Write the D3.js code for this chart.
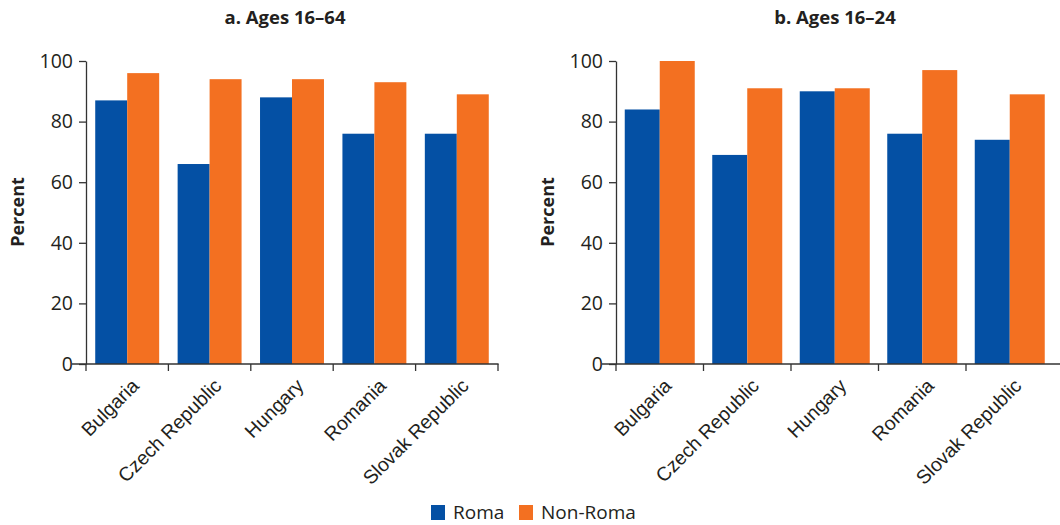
<!DOCTYPE html>
<html>
<head>
<meta charset="utf-8">
<script src="https://cdn.jsdelivr.net/npm/d3@7"></script>
<style>
  html, body { margin: 0; padding: 0; background: #fff; }
  svg { display: block; font-family: "Open Sans", sans-serif; }
</style>
</head>
<body>
<svg id="chart" width="1060" height="525"></svg>
<script>
const countries = ["Bulgaria", "Czech Republic", "Hungary", "Romania", "Slovak Republic"];
const seriesNames = ["Roma", "Non-Roma"];
const seriesColors = ["#0450a4", "#f37021"];
const yTicks = [0, 20, 40, 60, 80, 100];

const panelATitle = "a. Ages 16–64";
const panelARoma = [87, 66, 88, 76, 76];
const panelANonRoma = [96, 94, 94, 93, 89];

const panelBTitle = "b. Ages 16–24";
const panelBRoma = [84, 69, 90, 76, 74];
const panelBNonRoma = [100, 91, 91, 97, 89];

const svg = d3.select("#chart");
const textColor = "#231f20";
const axisColor = "#333";

const y = d3.scaleLinear().domain([0, 100]).range([364, 61]);

function drawPanel(opts) {
  const g = svg.append("g");
  const x = d3.scaleBand().domain(countries).range([opts.x0, opts.x1]).paddingInner(0).paddingOuter(0);
  const bw = x.bandwidth();
  const inner = d3.scaleBand().domain(seriesNames).range([bw * opts.pad, bw * (1 - opts.pad)]);

  const data = countries.map((c, i) => ({ country: c, values: [opts.roma[i], opts.nonRoma[i]] }));

  const groups = g.selectAll("g.grp").data(data).join("g")
    .attr("transform", d => `translate(${x(d.country)},0)`);
  groups.selectAll("rect").data(d => d.values.map((v, k) => ({ v, k }))).join("rect")
    .attr("x", d => inner(seriesNames[d.k]))
    .attr("width", inner.bandwidth())
    .attr("y", d => y(d.v))
    .attr("height", d => y(0) - y(d.v))
    .attr("fill", d => seriesColors[d.k]);

  // y axis
  const ya = g.append("g").attr("transform", `translate(${opts.x0},0)`)
    .call(d3.axisLeft(y).tickValues(yTicks).tickSize(7).tickSizeOuter(0).tickPadding(6));
  ya.select(".domain").attr("stroke", axisColor).attr("stroke-width", 1.3);
  ya.selectAll(".tick line").attr("stroke", axisColor).attr("stroke-width", 1.3);
  ya.selectAll(".tick text").attr("font-size", 19.5).attr("fill", textColor)
    .attr("font-family", "Open Sans, sans-serif");

  // x axis
  const xa = g.append("g").attr("transform", `translate(0,${y(0)})`)
    .call(d3.axisBottom(x).tickSize(0).tickFormat(""));
  xa.select(".domain").remove();
  const bounds = d3.range(countries.length + 1).map(i => opts.x0 + i * bw);
  const drawn = opts.clipEnd ? bounds.slice(0, -1) : bounds;
  xa.append("line").attr("x1", opts.x0 - 14).attr("x2", opts.axisEnd)
    .attr("y1", 0).attr("y2", 0).attr("stroke", axisColor).attr("stroke-width", 1.6);
  xa.selectAll("line.btick").data(drawn).join("line").attr("class", "btick")
    .attr("x1", d => d).attr("x2", d => d).attr("y1", 0).attr("y2", 7)
    .attr("stroke", axisColor).attr("stroke-width", 1.3);
  xa.selectAll("text.lbl").data(countries).join("text").attr("class", "lbl")
    .attr("transform", d => `translate(${x(d) + bw / 2 + 13},${23}) rotate(-45)`)
    .attr("text-anchor", "end")
    .attr("font-size", 19.5)
    .attr("fill", textColor)
    .text(d => d);

  // title
  g.append("text").attr("x", opts.titleX).attr("y", 24)
    .attr("text-anchor", "middle").attr("font-weight", "bold").attr("font-size", 18.5)
    .attr("fill", textColor).text(opts.title);

  // y label
  g.append("text").attr("transform", `translate(${opts.x0 - 62},212) rotate(-90)`)
    .attr("text-anchor", "middle").attr("font-weight", "bold").attr("font-size", 18)
    .attr("fill", textColor).text("Percent");
}

drawPanel({ x0: 86, x1: 498, axisEnd: 498.6, pad: 0.112, roma: panelARoma, nonRoma: panelANonRoma, title: panelATitle, titleX: 285, clipEnd: false });
drawPanel({ x0: 616, x1: 1053.5, axisEnd: 1062, pad: 0.1, roma: panelBRoma, nonRoma: panelBNonRoma, title: panelBTitle, titleX: 835, clipEnd: true });

// legend
const legend = svg.append("g");
const legendX = [431, 519];
seriesNames.forEach((s, i) => {
  legend.append("rect").attr("x", legendX[i]).attr("y", 505).attr("width", 14).attr("height", 15)
    .attr("fill", seriesColors[i]);
  legend.append("text").attr("x", legendX[i] + 22).attr("y", 519)
    .attr("font-size", 19).attr("fill", textColor).text(s);
});
</script>
</body>
</html>
